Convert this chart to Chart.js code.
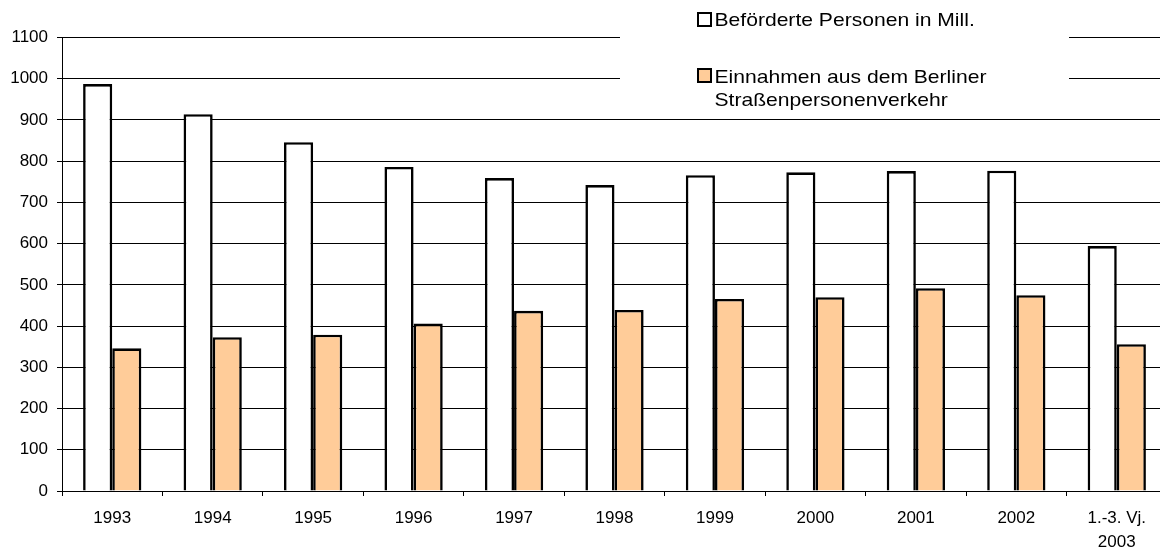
<!DOCTYPE html>
<html>
<head>
<meta charset="utf-8">
<script src="https://cdn.jsdelivr.net/npm/chart.js@4"></script>
<style>
html,body{margin:0;padding:0;background:#fff;overflow:hidden;}
#wrap{width:1168px;height:556px;position:relative;}
</style>
</head>
<body>
<div id="wrap"><canvas id="c" width="1168" height="556"></canvas></div>
<script>
const categories = ['1993','1994','1995','1996','1997','1998','1999','2000','2001','2002',['1.-3. Vj.','2003']];
const passengers = [987, 914, 846, 786, 759, 742, 766, 773, 776, 777, 594];
const revenue = [346, 373, 379, 406, 437, 439, 466, 470, 492, 475, 356];
const seriesNames = ['Beförderte Personen in Mill.', ['Einnahmen aus dem Berliner', 'Straßenpersonenverkehr']];
const seriesColors = ['#FFFFFF', '#FFCC99'];
const yTicks = [0,100,200,300,400,500,600,700,800,900,1000,1100];

const FONT = "'Liberation Sans', Arial, sans-serif";

const legendPlugin = {
  id: 'customLegend',
  afterDraw(chart) {
    const ctx = chart.ctx;
    ctx.save();
    ctx.fillStyle = '#fff';
    ctx.fillRect(620, 0, 449, 114);
    ctx.textBaseline = 'alphabetic';
    const items = [
      {box: [698, 13], lines: [[714.5, 26]]},
      {box: [698, 69], lines: [[714.5, 83]]},
    ];
    items[1].lines.push([714.5, 106]);
    items.forEach((it, i) => {
      ctx.fillStyle = seriesColors[i];
      ctx.fillRect(it.box[0], it.box[1], 13, 13);
      ctx.strokeStyle = '#000';
      ctx.lineWidth = 2;
      ctx.strokeRect(it.box[0], it.box[1], 13, 13);
      ctx.fillStyle = '#000';
      const txt = Array.isArray(seriesNames[i]) ? seriesNames[i] : [seriesNames[i]];
      txt.forEach((t, j) => {
        ctx.save();
        ctx.translate(it.lines[j][0], it.lines[j][1]);
        ctx.scale(1.14, 1);
        ctx.font = '18.5px ' + FONT;
        ctx.fillText(t, 0, 0);
        ctx.restore();
      });
    });
    ctx.restore();
  }
};

new Chart(document.getElementById('c'), {
  type: 'bar',
  data: {
    labels: categories,
    datasets: [
      {label: 'Beförderte Personen in Mill.', data: passengers, backgroundColor: seriesColors[0], borderColor: '#000', borderWidth: 2.6},
      {label: 'Einnahmen aus dem Berliner Straßenpersonenverkehr', data: revenue, backgroundColor: seriesColors[1], borderColor: '#000', borderWidth: 2.6}
    ]
  },
  options: {
    responsive: false,
    animation: false,
    devicePixelRatio: 1,
    layout: {padding: {top: 37.5, right: 1, left: 0, bottom: 0}},
    datasets: {bar: {categoryPercentage: 0.58, barPercentage: 1.0}},
    plugins: {legend: {display: false}, tooltip: {enabled: false}},
    scales: {
      x: {
        grid: {drawOnChartArea: false, offset: true, color: '#000', tickLength: 5, lineWidth: 1},
        border: {color: '#000', width: 1},
        ticks: {color: '#000', font: {family: FONT, size: 17, lineHeight: 1.42}, padding: 10, maxRotation: 0, autoSkip: false},
        afterFit(scale) { scale.height = 65; }
      },
      y: {
        min: 0, max: 1100,
        afterBuildTicks(scale) { scale.ticks = yTicks.map(v => ({value: v})); },
        grid: {color: '#000', tickLength: 5, lineWidth: 1},
        border: {color: '#000', width: 1},
        ticks: {color: '#000', font: {family: FONT, size: 17}, padding: 9, callback: (v) => String(v)},
        afterFit(scale) { scale.width = 62; }
      }
    }
  },
  plugins: [legendPlugin]
});
</script>
</body>
</html>
